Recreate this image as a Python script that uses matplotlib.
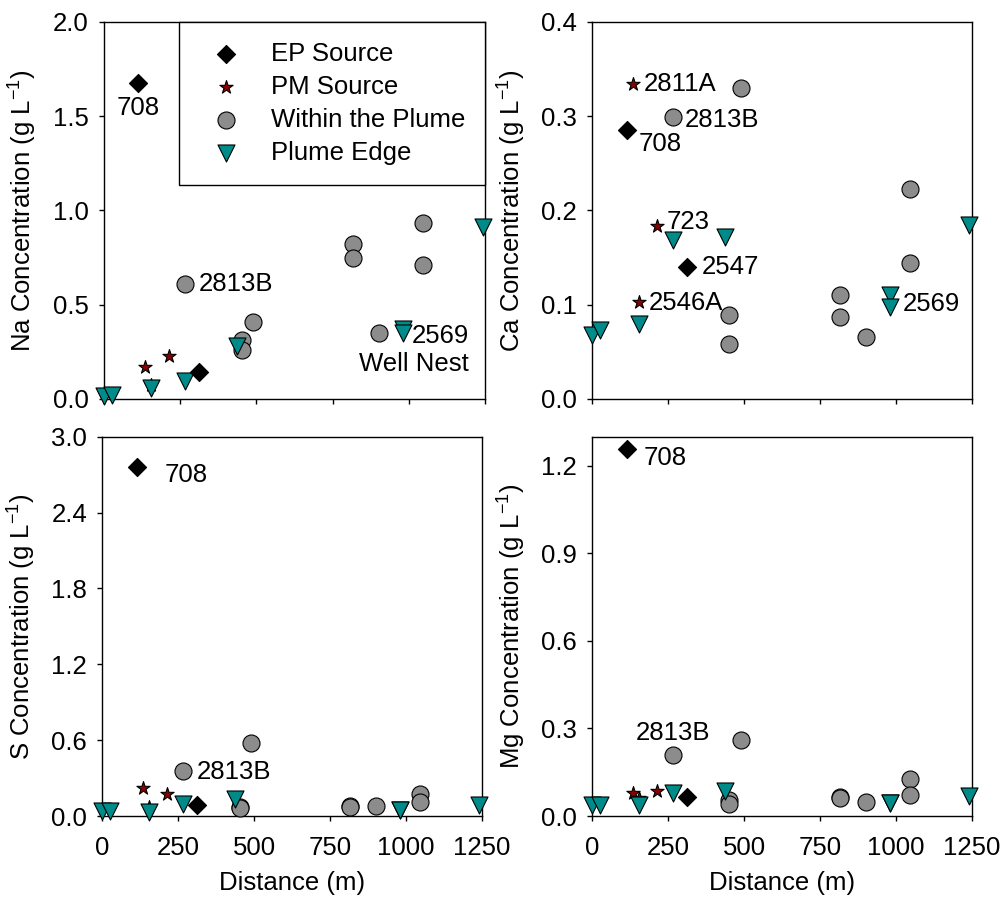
import matplotlib
matplotlib.use('Agg')
import matplotlib.pyplot as plt
from matplotlib.ticker import FormatStrFormatter

plt.rcParams['font.family'] = ['Liberation Sans', 'DejaVu Sans']
plt.rcParams['mathtext.fontset'] = 'custom'
plt.rcParams['mathtext.rm'] = 'Liberation Sans'
FS = 18.5
plt.rcParams['font.size'] = FS

# distances (m) of each well group
ep_x = [113, 311]                  # 708, 2547
pm_x = [133, 155, 212]             # 2811A, 2546A, 723
plume_x = [265, 452, 452, 489, 817, 817, 903, 1046, 1046]
edge_x = [0, 25, 155, 265, 436, 982, 982, 1242]

# concentrations (g/L)
na_ep = [1.673, 0.141]
na_pm = [0.169, 0.075, 0.226]
na_plume = [0.611, 0.314, 0.261, 0.406, 0.821, 0.747, 0.350, 0.932, 0.708]
na_edge = [0.014, 0.023, 0.058, 0.094, 0.279, 0.371, 0.350, 0.914]

ca_ep = [0.2855, 0.140]
ca_pm = [0.334, 0.103, 0.183]
ca_plume = [0.2985, 0.089, 0.058, 0.330, 0.110, 0.087, 0.066, 0.223, 0.144]
ca_edge = [0.068, 0.073, 0.080, 0.169, 0.172, 0.110, 0.098, 0.184]

s_ep = [2.763, 0.087]
s_pm = [0.219, 0.074, 0.174]
s_plume = [0.358, 0.069, 0.060, 0.580, 0.079, 0.069, 0.082, 0.174, 0.113]
s_edge = [0.042, 0.042, 0.034, 0.095, 0.132, 0.047, 0.050, 0.087]

mg_ep = [1.259, 0.066]
mg_pm = [0.080, 0.060, 0.087]
mg_plume = [0.210, 0.055, 0.041, 0.261, 0.066, 0.061, 0.047, 0.126, 0.072]
mg_edge = [0.038, 0.038, 0.038, 0.078, 0.087, 0.044, 0.044, 0.069]

fig = plt.figure(figsize=(10.03, 8.97), dpi=100)
ax_na = fig.add_axes([0.1037, 0.5552, 0.3798, 0.4206])
ax_ca = fig.add_axes([0.5905, 0.5552, 0.3783, 0.4206])
ax_s = fig.add_axes([0.1020, 0.0903, 0.3783, 0.4229])
ax_mg = fig.add_axes([0.5905, 0.0903, 0.3783, 0.4229])


def draw(ax, ep, pm, plume, edge, ymax, ystep, name):
    kw = dict(edgecolor='black', linewidths=0.8, clip_on=False)
    h3 = ax.scatter(plume_x, plume, s=150, marker='o', color='#8c8c8c', zorder=3, **kw)
    h2 = ax.scatter(pm_x, pm, s=100, marker='*', color='#8b0000', zorder=3.5, **kw)
    h4 = ax.scatter(edge_x, edge, s=150, marker='v', color='#008b8b', zorder=4, **kw)
    h1 = ax.scatter(ep_x, ep, s=85, marker='D', color='black', zorder=5, **kw)
    ax.set_xlim(0, 1250)
    ax.set_ylim(0, ymax)
    ax.set_xticks(range(0, 1251, 250))
    yt = [round(i * ystep, 2) for i in range(int(round(ymax / ystep)) + 1)]
    ax.set_yticks(yt)
    ax.yaxis.set_major_formatter(FormatStrFormatter('%.1f'))
    ax.tick_params(direction='out', length=3.5, width=1, labelsize=FS)
    ax.tick_params(axis='x', pad=11)
    ax.tick_params(axis='y', pad=7.5)
    for sp in ax.spines.values():
        sp.set_linewidth(1)
    ax.set_ylabel(name + r' Concentration (g L$^{-1}$)', fontsize=FS)
    ax.yaxis.set_label_coords(-0.172, 0.5)
    return h1, h2, h3, h4


hs = draw(ax_na, na_ep, na_pm, na_plume, na_edge, 2.0, 0.5, 'Na')
draw(ax_ca, ca_ep, ca_pm, ca_plume, ca_edge, 0.4, 0.1, 'Ca')
draw(ax_s, s_ep, s_pm, s_plume, s_edge, 3.0, 0.6, 'S')
draw(ax_mg, mg_ep, mg_pm, mg_plume, mg_edge, 1.3, 0.3, 'Mg')
ax_mg.set_yticks([0, 0.3, 0.6, 0.9, 1.2])
for ax in (ax_na, ax_ca):
    ax.tick_params(axis='x', labelbottom=False)
ax_s.set_xlabel('Distance (m)', fontsize=FS, labelpad=8)
ax_mg.set_xlabel('Distance (m)', fontsize=FS, labelpad=8)

leg = ax_na.legend(hs, ['EP Source', 'PM Source', 'Within the Plume', 'Plume Edge'],
                   loc='upper right', bbox_to_anchor=(1.0, 1.0), borderaxespad=0,
                   fancybox=False, edgecolor='black', framealpha=1, fontsize=FS,
                   borderpad=0.78, labelspacing=0.35, handlelength=2.1,
                   handletextpad=0.7, scatterpoints=1)
leg.get_frame().set_linewidth(1)


def lab(ax, text, x, y, dx, dy, ha='left'):
    ax.annotate(text, xy=(x, y), xytext=(dx, dy), textcoords='offset points',
                ha=ha, va='center', fontsize=FS, multialignment=ha, zorder=6)


lab(ax_na, '708', ep_x[0], na_ep[0], 0, -18, 'center')
lab(ax_na, '2813B', plume_x[0], na_plume[0], 10, 0)
lab(ax_na, '2569\nWell Nest', edge_x[5], na_edge[5], 47, -15, 'right')

lab(ax_ca, '2811A', pm_x[0], ca_pm[0], 8, 0)
lab(ax_ca, '2813B', plume_x[0], ca_plume[0], 9, -1.5)
lab(ax_ca, '708', ep_x[0], ca_ep[0], 8.5, -10)
lab(ax_ca, '723', pm_x[2], ca_pm[2], 7, 3)
lab(ax_ca, '2547', ep_x[1], ca_ep[1], 11, 0)
lab(ax_ca, '2546A', pm_x[1], ca_pm[1], 6.5, -1)
lab(ax_ca, '2569', edge_x[6], ca_edge[6], 9, 2)

lab(ax_s, '708', ep_x[0], s_ep[0], 20, -6)
lab(ax_s, '2813B', plume_x[0], s_plume[0], 10, -1)

lab(ax_mg, '708', ep_x[0], mg_ep[0], 12, -7)
lab(ax_mg, '2813B', plume_x[0], mg_plume[0], 0, 16, 'center')

fig.savefig('out.png', dpi=100)
